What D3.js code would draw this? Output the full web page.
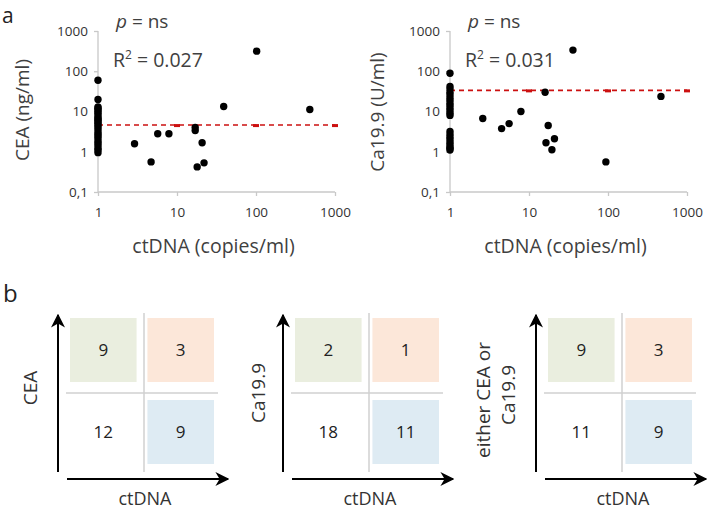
<!DOCTYPE html>
<html><head><meta charset="utf-8">
<script src="https://cdn.jsdelivr.net/npm/d3@7"></script>
<style>body{margin:0;background:#fff}svg{display:block}text{font-family:"Open Sans",sans-serif}</style>
</head><body><svg id="c" width="709" height="512"></svg>
<script>
// Panel a: CEA vs ctDNA
const ceaX = [1,1,1,1,1,1,1,1,1,1,1,1,1,1,1,1,1,1,1,1,1,1,1,1,1,1,
  2.9,4.7,5.7,7.9,17,17,18,20.8,22,39,102,480];
const ceaY = [60,20,13,12,11,10,9,8,7,6.5,6,5.5,5,4.5,4,3.5,3,2.7,2.4,2.1,1.8,1.6,1.4,1.2,1.1,0.95,
  1.58,0.56,2.8,2.8,4,3.35,0.42,1.68,0.53,13.3,316,11.2];
const ceaMean = 4.6;
// Ca19.9 vs ctDNA
const caX = [1,1,1,1,1,1,1,1,1,1,1,1,1,1,1,1,1,1,1,1,1,1,
  2.6,4.5,5.6,7.9,16,17.5,16.4,21,19.5,36,94,468];
const caY = [89,42,36,30,26,22,19,16,14,12,10.5,9,8,3.2,2.7,2.3,2,1.7,1.5,1.3,1.2,1.1,
  6.7,3.76,5,10,30,4.5,1.68,2.1,1.12,335,0.56,23.7];
const caMean = 33.5;
const meanMarkX = [1,10,100,1000];
const yTicks = [0.1,1,10,100,1000];
const xTicks = [1,10,100,1000];

// Panel b: 2x2 tables [high marker & ctDNA-, high marker & ctDNA+, low & ctDNA-, low & ctDNA+]
const tableLabels = [["CEA"],["Ca19.9"],["either CEA or","Ca19.9"]];
const tableCounts = [[9,3,12,9],[2,1,18,11],[9,3,11,9]];
const quadColors = ["#eaeedf","#fce7d9",null,"#deebf3"];

const svg = d3.select("#c");
const fmt = d => String(d).replace(".", ",");

function scatter(ox, xs, ys, mean, ylabel, r2, labelX, labelY) {
  const x = d3.scaleLog().domain([1,1000]).range([ox, ox+237]);
  const y = d3.scaleLog().domain([0.1,1000]).range([192, 31]);
  const g = svg.append("g");
  const ya = g.append("g").attr("transform",`translate(${ox},0)`)
    .call(d3.axisLeft(y).tickValues(yTicks).tickFormat(fmt).tickSize(4).tickPadding(6));
  const xa = g.append("g").attr("transform",`translate(0,192)`)
    .call(d3.axisBottom(x).tickValues(xTicks).tickFormat(d=>d).tickSize(4).tickPadding(11));
  [ya,xa].forEach(a=>{
    a.selectAll("path,line").attr("stroke","#c8c8c8").attr("stroke-width",1.3);
    a.selectAll("text").attr("fill","#333").style("font-size","13.5px");
    a.select(".domain").attr("d", a===ya ? `M-0,${y(1000)}V${y(0.1)}` : `M${ox},0H${ox+237}`);
  });
  // mean line
  g.append("line").attr("x1",x(1)).attr("x2",x(1000)).attr("y1",y(mean)).attr("y2",y(mean))
    .attr("stroke","#cc1010").attr("stroke-width",1.6).attr("stroke-dasharray","5,4");
  g.selectAll(".mm").data(meanMarkX).join("rect")
    .attr("x",d=>x(d)-3).attr("y",y(mean)-1).attr("width",6).attr("height",3).attr("fill","#cc1010");
  g.selectAll("circle").data(xs.map((v,i)=>[v,ys[i]])).join("circle")
    .attr("cx",d=>x(d[0])).attr("cy",d=>y(d[1])).attr("r",3.7).attr("fill","#000");
  g.append("text").attr("transform",`translate(${labelX},${labelY}) rotate(-90)`).attr("text-anchor","middle")
    .attr("dy","0.35em").style("font-size","19px").attr("fill","#404040").text(ylabel);
  g.append("text").attr("x",(ox+x(1000))/2-3).attr("y",253).attr("text-anchor","middle")
    .style("font-size","19.5px").attr("fill","#404040").text("ctDNA (copies/ml)");
  const pt = g.append("text").attr("x",ox+18).attr("y",28).style("font-size","19px").attr("fill","#404040");
  pt.append("tspan").style("font-style","italic").text("p");
  pt.append("tspan").text(" = ns");
  const rt = g.append("text").attr("x",ox+15).attr("y",67).style("font-size","19.5px").attr("fill","#404040");
  rt.append("tspan").text("R");
  rt.append("tspan").attr("dy",-8).style("font-size","12px").text("2");
  rt.append("tspan").attr("dy",8).text(" = "+r2);
}
scatter(98, ceaX, ceaY, ceaMean, "CEA (ng/ml)", "0.027", 22, 110);
scatter(450, caX, caY, caMean, "Ca19.9 (U/ml)", "0.031", 377, 112);

svg.append("text").attr("x",2).attr("y",23).style("font-size","21px").attr("fill","#222").text("a");
svg.append("text").attr("x",3).attr("y",302).style("font-size","24px").attr("fill","#222").text("b");

// arrow marker
svg.append("defs").append("marker").attr("id","ah").attr("viewBox","0 0 10 10").attr("refX",9).attr("refY",5)
  .attr("markerWidth",14).attr("markerHeight",14).attr("markerUnits","userSpaceOnUse").attr("orient","auto")
  .append("path").attr("d","M0,0L10,5L0,10L3,5Z").attr("fill","#000");

const panelOx = [58, 283, 536];
const labelXs = [[30],[258],[483,508]];
tableCounts.forEach((counts,i)=>{
  const ox = panelOx[i];
  const g = svg.append("g");
  const qx = d3.scaleBand().domain([0,1]).range([ox+12, ox+156]).paddingInner(0.14);
  const qy = d3.scaleBand().domain([0,1]).range([318, 464]).paddingInner(0.22);
  const mx = ox+86, my = 393;
  g.append("line").attr("x1",mx).attr("x2",mx).attr("y1",313).attr("y2",472).attr("stroke","#d0d0d0").attr("stroke-width",1.5);
  g.append("line").attr("x1",ox+8).attr("x2",ox+160).attr("y1",my).attr("y2",my).attr("stroke","#d0d0d0").attr("stroke-width",1.5);
  counts.forEach((c,k)=>{
    const col = k%2, row = Math.floor(k/2);
    if (quadColors[k]) g.append("rect").attr("x",qx(col)).attr("y",qy(row)).attr("width",qx.bandwidth()).attr("height",qy.bandwidth()).attr("fill",quadColors[k]);
    g.append("text").attr("x",qx(col)+qx.bandwidth()/2).attr("y",qy(row)+qy.bandwidth()/2).attr("dy","0.35em")
      .attr("text-anchor","middle").style("font-size","17px").attr("fill","#222").text(c);
  });
  g.append("line").attr("x1",ox).attr("x2",ox).attr("y1",472).attr("y2",315).attr("stroke","#000").attr("stroke-width",2).attr("marker-end","url(#ah)");
  g.append("line").attr("x1",ox+9).attr("x2",ox+170).attr("y1",479).attr("y2",479).attr("stroke","#000").attr("stroke-width",2).attr("marker-end","url(#ah)");
  const lines = tableLabels[i];
  lines.forEach((t,j)=>{
    g.append("text").attr("transform",`translate(${labelXs[i][j]},${lines.length>1?(j?395:400):(i?393:388)}) rotate(-90)`)
      .attr("text-anchor","middle").attr("dy","0.35em").style("font-size","19px").attr("fill","#333").text(t);
  });
  g.append("text").attr("x",ox+87).attr("y",505).attr("text-anchor","middle")
    .style("font-size","18px").attr("fill","#333").text("ctDNA");
});
</script></body></html>
